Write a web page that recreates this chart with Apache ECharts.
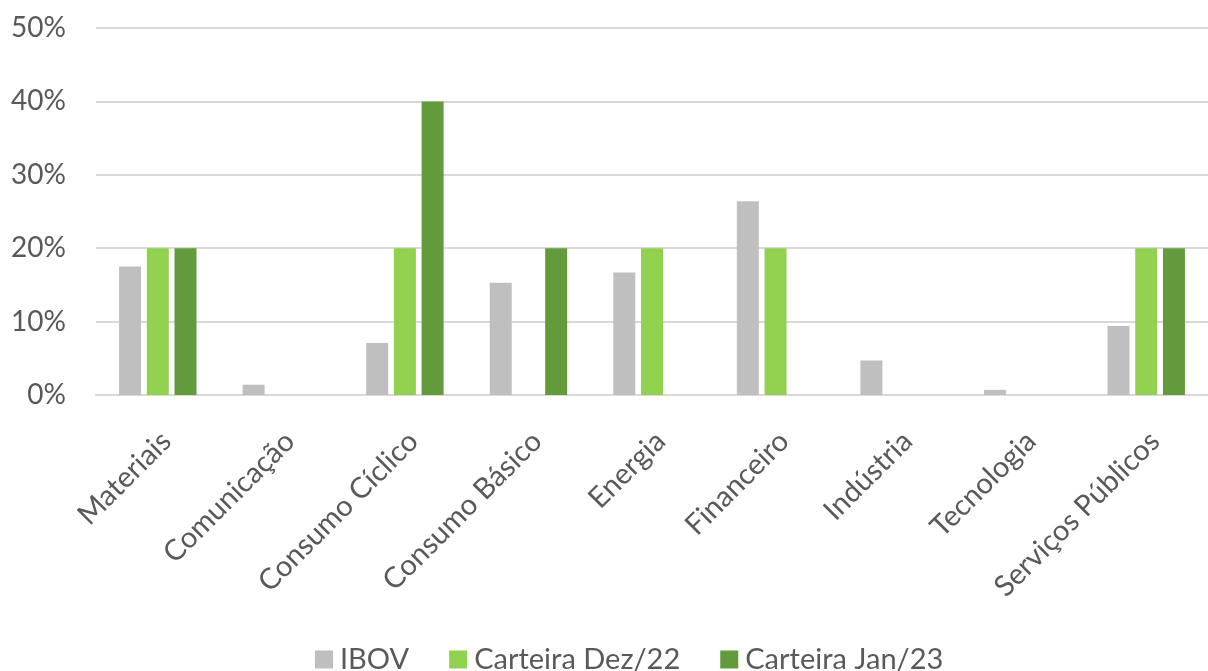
<!DOCTYPE html>
<html>
<head>
<meta charset="utf-8">
<script src="https://cdn.jsdelivr.net/npm/echarts@6/dist/echarts.min.js"></script>
<style>
  html, body { margin: 0; padding: 0; background: #fff; }
  #chart { width: 1208px; height: 671px; }
</style>
</head>
<body>
<div id="chart"></div>
<script>
// dados do gráfico
var setores = ['Materiais', 'Comunicação', 'Consumo Cíclico', 'Consumo Básico', 'Energia',
  'Financeiro', 'Indústria', 'Tecnologia', 'Serviços Públicos'];
var ibov = [17.5, 1.4, 7.1, 15.3, 16.7, 26.4, 4.7, 0.7, 9.4];
var carteiraDez = [20, 0, 20, 0, 20, 20, 0, 0, 20];
var carteiraJan = [20, 0, 40, 20, 0, 0, 0, 0, 20];

var fonte = 'Lato, "Open Sans", sans-serif';
var cinzaTexto = '#595959';

var chart = echarts.init(document.getElementById('chart'));

var option = {
  animation: false,
  textStyle: { fontFamily: fonte },
  grid: {
    left: 96,
    right: 0,
    top: 28,
    bottom: 276,
    containLabel: false
  },
  legend: {
    top: 640,
    left: 310,
    itemWidth: 18,
    itemHeight: 18,
    itemGap: 40,
    icon: 'rect',
    textStyle: { fontSize: 29, color: cinzaTexto, fontFamily: fonte, padding: [0, 0, 0, 2] },
    data: ['IBOV', 'Carteira Dez/22', 'Carteira Jan/23']
  },
  xAxis: {
    type: 'category',
    data: setores,
    axisLine: { show: true, lineStyle: { color: '#d9d9d9', width: 2 } },
    axisTick: { show: false },
    axisLabel: {
      rotate: 45,
      fontSize: 29,
      color: cinzaTexto,
      margin: 50,
      interval: 0,
      padding: [0, -12, 0, 0]
    }
  },
  yAxis: {
    type: 'value',
    min: 0,
    max: 50,
    interval: 10,
    axisLine: { show: false },
    axisTick: { show: false },
    splitLine: { lineStyle: { color: '#d9d9d9', width: 2 } },
    axisLabel: {
      formatter: '{value}%',
      fontSize: 28,
      color: cinzaTexto,
      margin: 30
    }
  },
  series: [
    {
      name: 'IBOV',
      type: 'bar',
      data: ibov,
      barWidth: 22,
      barGap: '26%',
      itemStyle: { color: '#bfbfbf' }
    },
    {
      name: 'Carteira Dez/22',
      type: 'bar',
      data: carteiraDez,
      barWidth: 22,
      barGap: '26%',
      itemStyle: { color: '#92d050' }
    },
    {
      name: 'Carteira Jan/23',
      type: 'bar',
      data: carteiraJan,
      barWidth: 22,
      barGap: '26%',
      itemStyle: { color: '#639a3c' }
    }
  ]
};

chart.setOption(option);
</script>
</body>
</html>
